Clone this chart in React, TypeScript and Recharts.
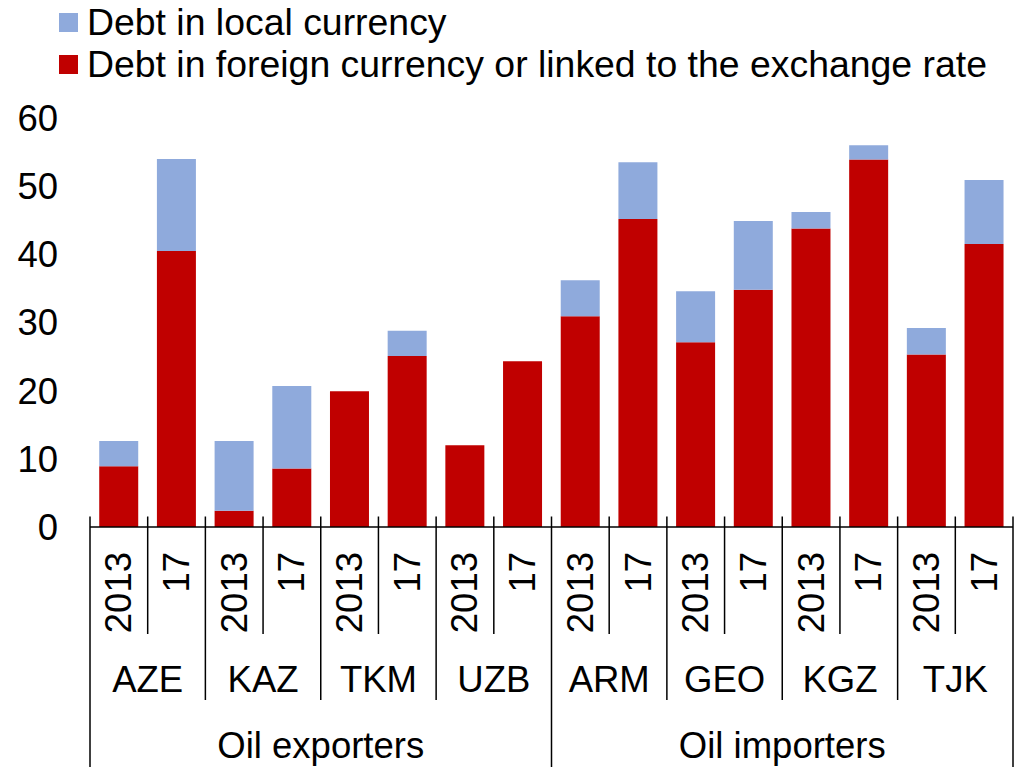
import { BarChart, Bar, XAxis, YAxis, Legend } from "recharts";

const countries = ["AZE", "KAZ", "TKM", "UZB", "ARM", "GEO", "KGZ", "TJK"];
const years = ["2013", "17"];
const groups = ["Oil exporters", "Oil importers"];

// one value per country/year, in the order AZE 2013, AZE 17, KAZ 2013, ...
const foreignDebt = [8.9, 40.5, 2.4, 8.6, 19.9, 25.1, 12.0, 24.3, 30.9, 45.2, 27.1, 34.8, 43.8, 53.9, 25.3, 41.5];
const localDebt = [3.7, 13.5, 10.2, 12.1, 0, 3.7, 0, 0, 5.3, 8.3, 7.5, 10.1, 2.4, 2.1, 3.9, 9.4];

const yTicks = [0, 10, 20, 30, 40, 50, 60];

const series = [
  { key: "local", name: "Debt in local currency", color: "#8FAADC" },
  { key: "foreign", name: "Debt in foreign currency or linked to the exchange rate", color: "#C00000" },
];

const rows = countries.flatMap((c, ci) =>
  years.map((yr, yi) => {
    const i = ci * years.length + yi;
    return { key: c + "-" + yr, year: yr, country: c, foreign: foreignDebt[i], local: localDebt[i] };
  })
);

const FONT = "'Liberation Sans', Arial, sans-serif";
const perGroup = countries.length / groups.length * years.length;

function YearTick(props: any) {
  const { x, y, payload } = props;
  const i: number = payload.index;
  const half: number = payload.offset || 28.85;
  const row = rows[i];
  const axisY = y;
  const lineLen = i % perGroup === 0 ? 240 : i % years.length === 0 ? 173 : 107;
  const isLast = i === rows.length - 1;
  return (
    <g>
      <line x1={x - half} x2={x - half} y1={axisY - 10.5} y2={axisY + lineLen} stroke="#000" strokeWidth={1.5} />
      {isLast && (
        <line x1={x + half} x2={x + half} y1={axisY - 10.5} y2={axisY + 240} stroke="#000" strokeWidth={1.5} />
      )}
      <text
        x={x}
        y={axisY + 25}
        transform={`rotate(-90 ${x} ${axisY + 25})`}
        textAnchor="end"
        dominantBaseline="central"
        fontSize={36.5}
        fill="#000"
      >
        {row.year}
      </text>
      {i % years.length === years.length - 1 && (
        <text x={x - half} y={axisY + 152} textAnchor="middle" dominantBaseline="central" fontSize={36.5} fill="#000">
          {row.country}
        </text>
      )}
      {i % perGroup === perGroup / 2 - 1 && (
        <text x={x + half} y={axisY + 218} textAnchor="middle" dominantBaseline="central" fontSize={36.5} fill="#000">
          {groups[Math.floor(i / perGroup)]}
        </text>
      )}
    </g>
  );
}

function LegendBox() {
  return (
    <div style={{ position: "relative", height: 118, width: 1000 }}>
      {series.map((s, i) => (
        <div
          key={s.key}
          style={{
            position: "absolute",
            left: 59,
            top: 1 + i * 42,
            display: "flex",
            alignItems: "center",
            whiteSpace: "nowrap",
            fontSize: 37.4,
            lineHeight: "42px",
            color: "#000",
          }}
        >
          <span style={{ display: "inline-block", width: 19, height: 19, background: s.color, marginRight: 9 }} />
          {s.name}
        </div>
      ))}
    </div>
  );
}

export default function App() {
  return (
    <div style={{ fontFamily: FONT, width: 1015, height: 767 }}>
      <style>{"body{margin:0}"}</style>
      <BarChart
        width={1015}
        height={767}
        data={rows}
        margin={{ top: 0, right: 2, bottom: 0, left: 0 }}
        barCategoryGap="16%"
      >
        <Legend
          verticalAlign="top"
          align="left"
          content={() => <LegendBox />}
          wrapperStyle={{ top: 0, left: 0 }}
        />
        <YAxis
          width={90}
          domain={[0, 60]}
          ticks={yTicks}
          axisLine={false}
          tickLine={false}
          tickSize={0}
          tickMargin={32}
          tick={{ fill: "#000", fontSize: 36.5 }}
        />
        <XAxis
          dataKey="key"
          height={240}
          interval={0}
          tickLine={false}
          tickSize={0}
          tickMargin={0}
          axisLine={{ stroke: "#000", strokeWidth: 1.5 }}
          tick={<YearTick />}
        />
        <Bar dataKey="foreign" stackId="a" fill="#C00000" isAnimationActive={false} />
        <Bar dataKey="local" stackId="a" fill="#8FAADC" isAnimationActive={false} />
      </BarChart>
    </div>
  );
}
